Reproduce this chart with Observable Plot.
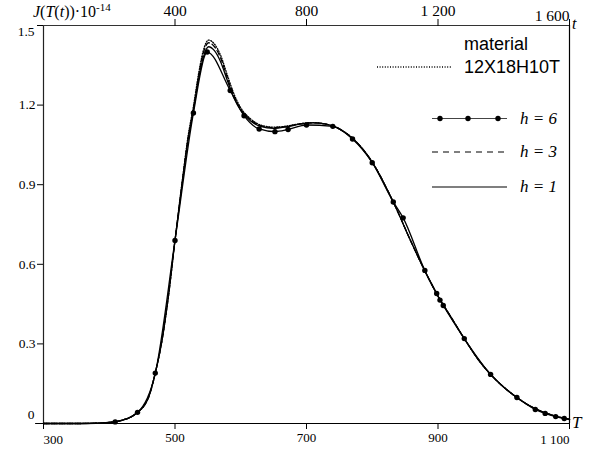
<!DOCTYPE html>
<html><head><meta charset="utf-8">
<script src="https://cdn.jsdelivr.net/npm/d3@7"></script>
<script src="https://cdn.jsdelivr.net/npm/@observablehq/plot@0.6"></script>
<style>body{margin:0;background:#fff}</style>
</head><body><div id="chart"></div>
<script>
// Temperature grid (K) and curves J(T)·10^-14
const T = [300, 350, 380, 400, 420, 440, 460, 470, 480, 490, 500, 510, 520, 528, 536, 543, 551, 560, 569, 580, 590, 600, 615, 630, 650, 670, 690, 710, 730, 750, 770, 800, 830, 860, 880, 900, 920, 940, 960, 980, 1000, 1020, 1040, 1060, 1080, 1100];
const h1 = [0, 0, 0.001, 0.004, 0.013, 0.036, 0.10, 0.19, 0.31, 0.48, 0.69, 0.89, 1.07, 1.18, 1.30, 1.38, 1.42, 1.405, 1.365, 1.29, 1.225, 1.18, 1.14, 1.12, 1.112, 1.118, 1.128, 1.133, 1.128, 1.11, 1.075, 0.985, 0.845, 0.68, 0.575, 0.48, 0.40, 0.32, 0.245, 0.185, 0.137, 0.098, 0.066, 0.043, 0.027, 0.016];
const h3 = [0, 0, 0.001, 0.004, 0.013, 0.036, 0.10, 0.19, 0.31, 0.48, 0.69, 0.89, 1.075, 1.185, 1.31, 1.395, 1.435, 1.42, 1.38, 1.30, 1.232, 1.185, 1.145, 1.123, 1.115, 1.12, 1.129, 1.133, 1.128, 1.11, 1.075, 0.985, 0.845, 0.68, 0.575, 0.48, 0.40, 0.32, 0.245, 0.185, 0.137, 0.098, 0.066, 0.043, 0.027, 0.016];
const material = [0, 0, 0.001, 0.004, 0.013, 0.036, 0.10, 0.19, 0.31, 0.48, 0.69, 0.895, 1.085, 1.195, 1.32, 1.405, 1.445, 1.43, 1.39, 1.31, 1.24, 1.19, 1.148, 1.125, 1.117, 1.121, 1.13, 1.134, 1.128, 1.11, 1.075, 0.985, 0.845, 0.68, 0.575, 0.48, 0.40, 0.32, 0.245, 0.185, 0.137, 0.098, 0.066, 0.043, 0.027, 0.016];
// h = 6 curve (points with markers)
const T6 = [300, 360, 409, 443, 470, 500, 528, 549, 584, 605, 628, 652, 672, 700, 740, 770, 800, 832, 847, 880, 898, 903, 908, 940, 980, 1020, 1048, 1063, 1079, 1092, 1100];
const h6 = [0, 0, 0.006, 0.042, 0.19, 0.69, 1.17, 1.40, 1.255, 1.16, 1.11, 1.10, 1.108, 1.125, 1.12, 1.072, 0.983, 0.835, 0.775, 0.577, 0.49, 0.465, 0.445, 0.32, 0.185, 0.098, 0.053, 0.038, 0.026, 0.019, 0.015];
const h6Marked = [false, false, true, true, true, true, true, true, true, true, true, true, true, true, true, true, true, true, true, true, true, true, true, true, true, true, true, true, true, true, false];

const xTicks = [300, 500, 700, 900, 1100];
const xTickLabels = ["300", "500", "700", "900", "1 100"];
const yTicks = [0, 0.3, 0.6, 0.9, 1.2, 1.5];
const yTickLabels = ["0", "0.3", "0.6", "0.9", "1.2", "1.5"];
const tTicks = [400, 800, 1200, 1600];
const tTickLabels = ["400", "800", "1 200", "1 600"];
const tToT = t => 300 + t / 2; // top axis t maps onto T

const serif = "'Liberation Serif', 'Times New Roman', serif";
const sans = "'Liberation Sans', Arial, sans-serif";

const rows = (xs, ys) => xs.map((x, i) => ({T: x, J: ys[i]}));
const xLab = new Map(xTicks.map((d, i) => [d, xTickLabels[i]]));
const yLab = new Map(yTicks.map((d, i) => [d, yTickLabels[i]]));
const tPos = tTicks.map(tToT);
const tLab = new Map(tPos.map((d, i) => [d, tTickLabels[i]]));

const lineOpts = {x: "T", y: "J", stroke: "black", strokeWidth: 1.3, curve: "monotone-x"};
const markers = rows(T6, h6).filter((d, i) => h6Marked[i]);

const plot = Plot.plot({
  width: 598, height: 452,
  marginLeft: 43, marginRight: 29, marginTop: 25, marginBottom: 29,
  x: {domain: [300, 1100], axis: null, label: null},
  y: {domain: [0, 1.5], axis: null, label: null},
  style: {fontFamily: serif, background: "white", color: "black"},
  marks: [
    // frame
    Plot.ruleX([300], {y1: 0, y2: 1.5, stroke: "#222", strokeWidth: 1.2}),
    Plot.ruleX([1100], {y1: 0, y2: 1.5, stroke: "black", strokeWidth: 1.2}),
    Plot.ruleY([0], {x1: 288, x2: 1100, stroke: "black", strokeWidth: 1.2}),
    Plot.ruleY([1.5], {x1: 300, x2: 1100, stroke: "#333", strokeWidth: 1.2}),
    // axes
    Plot.axisX({ticks: xTicks, label: null, tickSize: 6, tickPadding: 3, fontSize: 13, fontFamily: serif,
      tickFormat: d => (d === 300 || d === 1100) ? "" : xLab.get(d)}),
    Plot.text([300], {x: d => d, frameAnchor: "bottom", dy: 20, text: d => xLab.get(d), textAnchor: "start", fontSize: 13, fontFamily: serif}),
    Plot.text([1100], {x: d => d, frameAnchor: "bottom", dy: 20, text: d => xLab.get(d), textAnchor: "end", fontSize: 13, fontFamily: serif}),
    Plot.axisY({ticks: yTicks, label: null, tickSize: 6, tickPadding: 2, fontSize: 13.5, fontFamily: serif,
      tickFormat: d => (d === 0 || d === 1.5) ? "" : yLab.get(d)}),
    Plot.text([0], {y: d => d, frameAnchor: "left", dx: -9, dy: -9, text: d => yLab.get(d), textAnchor: "end", fontSize: 13.5, fontFamily: serif}),
    Plot.text([1.5], {y: d => d, frameAnchor: "left", dx: -9, dy: 6, text: d => yLab.get(d), textAnchor: "end", fontSize: 13.5, fontFamily: serif}),
    Plot.axisX({anchor: "top", ticks: tPos, label: null, tickSize: 7, tickPadding: 3, fontSize: 15.5, fontFamily: serif,
      tickFormat: d => d === tToT(1600) ? "" : tLab.get(d)}),
    Plot.text([tToT(1600)], {x: d => d, frameAnchor: "top", dy: -16, text: d => tLab.get(d), textAnchor: "end", fontSize: 15.5, fontFamily: serif}),
    // curves
    Plot.line(rows(T, material), {...lineOpts, strokeDasharray: "1,1.6"}),
    Plot.line(rows(T, h3), {...lineOpts, strokeDasharray: "5,3"}),
    Plot.line(rows(T, h1), lineOpts),
    Plot.line(rows(T6, h6), lineOpts),
    Plot.dot(markers, {x: "T", y: "J", r: 2.7, fill: "black", stroke: "none"})
  ]
});
document.getElementById("chart").appendChild(plot);

// annotations and legend
const svg = d3.select(plot);
const g = svg.append("g").attr("text-anchor", "start").style("text-anchor", "start").attr("fill", "black");
const yl = g.append("text").attr("x", 33).attr("y", 17).style("font-family", serif).style("font-size", "16px");
yl.append("tspan").style("font-style", "italic").text("J");
yl.append("tspan").text("(");
yl.append("tspan").style("font-style", "italic").text("T");
yl.append("tspan").text("(");
yl.append("tspan").style("font-style", "italic").text("t");
yl.append("tspan").text("))·10");
yl.append("tspan").attr("dy", -6).style("font-size", "11px").text("-14");

g.append("text").attr("x", 572).attr("y", 29).style("font-family", serif).style("font-style", "italic").style("font-size", "16px").text("t");
g.append("text").attr("x", 572).attr("y", 428).style("font-family", serif).style("font-style", "italic").style("font-size", "17px").text("T");

g.append("text").attr("x", 464).attr("y", 50).style("font-family", sans).style("font-size", "18px").text("material");
g.append("text").attr("x", 464).attr("y", 73).style("font-family", sans).style("font-size", "18px").text("12X18H10T");
g.append("line").attr("x1", 377).attr("x2", 452).attr("y1", 67).attr("y2", 67)
  .attr("stroke", "black").attr("stroke-width", 1.3).attr("stroke-dasharray", "1,1.6");

const legendRows = [
  {label: "h = 6", y: 118.5, dash: null, dots: true},
  {label: "h = 3", y: 152, dash: "6,5", dots: false},
  {label: "h = 1", y: 187, dash: null, dots: false}
];
legendRows.forEach(r => {
  const l = g.append("line").attr("x1", 432).attr("x2", 507).attr("y1", r.y).attr("y2", r.y)
    .attr("stroke", r.dots ? "#444" : "black").attr("stroke-width", 1.2);
  if (r.dash) l.attr("stroke-dasharray", r.dash);
  if (r.dots) [440, 468, 498].forEach(cx => g.append("circle").attr("cx", cx).attr("cy", r.y).attr("r", 2.7).attr("fill", "black"));
  g.append("text").attr("x", 520).attr("y", r.y + 5).style("font-family", serif).style("font-style", "italic").style("font-size", "17px").text(r.label);
});
</script>
</body></html>
